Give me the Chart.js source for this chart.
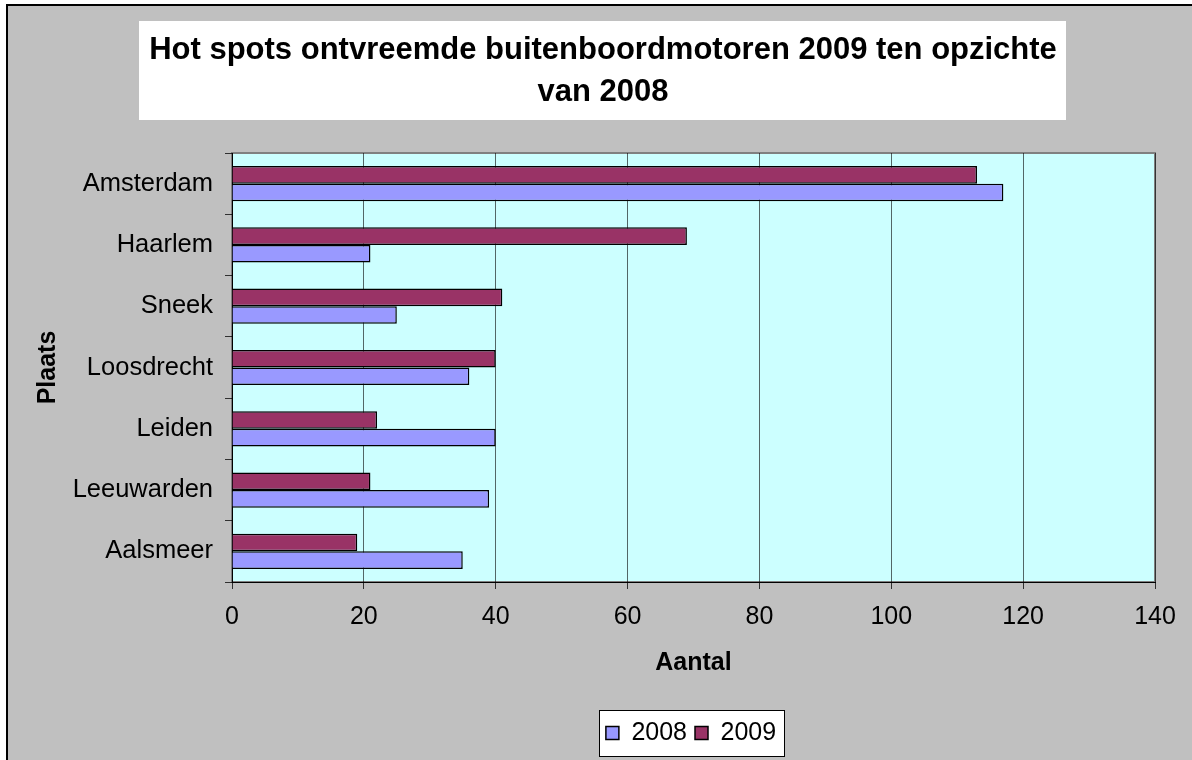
<!DOCTYPE html>
<html>
<head>
<meta charset="utf-8">
<script src="https://cdn.jsdelivr.net/npm/chart.js@4/dist/chart.umd.min.js"></script>
<style>
html,body{margin:0;padding:0;background:#fff;overflow:hidden}
canvas{display:block}
</style>
</head>
<body>
<canvas id="c" width="1192" height="760"></canvas>
<script>
const titleLines = ['Hot spots ontvreemde buitenboordmotoren 2009 ten opzichte', 'van 2008'];
const categories = ['Amsterdam', 'Haarlem', 'Sneek', 'Loosdrecht', 'Leiden', 'Leeuwarden', 'Aalsmeer'];
const seriesNames = ['2008', '2009'];
const values2008 = [117, 21, 25, 36, 40, 39, 35];
const values2009 = [113, 69, 41, 40, 22, 21, 19];
const xTicks = [0, 20, 40, 60, 80, 100, 120, 140];
const xTitle = 'Aantal';
const yTitle = 'Plaats';

const FONT = '"Liberation Sans", Arial, Helvetica, sans-serif';
Chart.defaults.font.family = FONT;
Chart.defaults.color = '#000';

const TITLE_SIZE = 31, TITLE_LH = 42;

const bgPlugin = {
  id: 'bgPlugin',
  afterLayout(chart) {
    const t = chart.titleBlock;
    if (t) { t.left = 14; t.right = chart.width; }
    const lg = chart.legend, a = chart.chartArea;
    if (lg) { lg.left = a.left; lg.right = a.right - 5; }
  },
  beforeDraw(chart) {
    const ctx = chart.ctx, W = chart.width, H = chart.height;
    ctx.save();
    ctx.fillStyle = '#ffffff';
    ctx.fillRect(0, 0, W, H);
    ctx.fillStyle = '#C0C0C0';
    ctx.fillRect(6, 4, W - 6, H - 4);
    ctx.fillStyle = '#000';
    ctx.fillRect(6, 4, 2, H - 4);
    ctx.fillRect(6, 4, W - 6, 2);

    // title box
    const t = chart.titleBlock;
    ctx.font = 'bold ' + TITLE_SIZE + 'px ' + FONT;
    let w = 0;
    titleLines.forEach(s => { w = Math.max(w, ctx.measureText(s).width); });
    const cx = (t.left + t.right) / 2;
    const c1 = t.top + t._padding.top + TITLE_LH / 2;
    ctx.fillStyle = '#ffffff';
    ctx.fillRect(Math.round(cx - w / 2 - 10), Math.round(c1 - 29), Math.round(w + 19), Math.round(TITLE_LH + 57));

    // plot area
    const a = chart.chartArea;
    ctx.fillStyle = '#CCFFFF';
    ctx.fillRect(a.left, a.top, a.right - a.left, a.bottom - a.top);
    ctx.strokeStyle = '#808080';
    ctx.lineWidth = 2;
    ctx.strokeRect(a.left, a.top, a.right - a.left, a.bottom - a.top);

    // legend box
    const lg = chart.legend;
    const hb = lg && lg.legendHitBoxes;
    if (hb && hb.length) {
      const first = hb[0], last = hb[hb.length - 1];
      const x0 = Math.round(first.left - 7), x1 = Math.round(last.left + last.width + 8);
      const cy = Math.round(first.top + first.height / 2);
      ctx.fillStyle = '#ffffff';
      ctx.fillRect(x0, cy - 23, x1 - x0, 46);
      ctx.strokeStyle = '#000';
      ctx.lineWidth = 1;
      ctx.strokeRect(x0 + 0.5, cy - 23 + 0.5, x1 - x0, 46);
    }
    ctx.restore();
  }
};

new Chart(document.getElementById('c'), {
  type: 'bar',
  data: {
    labels: categories,
    datasets: [
      { label: seriesNames[1], data: values2009, backgroundColor: '#993366', borderColor: '#000', borderWidth: 1.5,
        categoryPercentage: 0.575, barPercentage: 1.0 },
      { label: seriesNames[0], data: values2008, backgroundColor: '#9999FF', borderColor: '#000', borderWidth: 1.5,
        categoryPercentage: 0.575, barPercentage: 1.0 }
    ]
  },
  options: {
    indexAxis: 'y',
    responsive: false,
    animation: false,
    devicePixelRatio: 1,
    layout: { padding: { left: 31, right: 37, top: 5, bottom: 4.5 } },
    plugins: {
      tooltip: { enabled: false },
      title: {
        display: true,
        text: titleLines,
        color: '#000',
        font: { size: TITLE_SIZE, weight: 'bold', lineHeight: TITLE_LH / TITLE_SIZE },
        padding: { top: 24, bottom: 40 }
      },
      legend: {
        display: true,
        position: 'bottom',
        reverse: true,
        labels: { color: '#000', font: { size: 25 }, boxWidth: 13, boxHeight: 13, padding: 8 }
      }
    },
    scales: {
      x: {
        type: 'linear',
        min: xTicks[0],
        max: xTicks[xTicks.length - 1],
        ticks: { stepSize: xTicks[1] - xTicks[0], color: '#000', font: { size: 25 }, padding: 13.5 },
        grid: { color: 'rgba(0,0,0,0.6)', tickColor: 'rgba(0,0,0,0.75)', tickLength: 7, lineWidth: 1 },
        border: { display: true, color: '#000', width: 1 },
        title: { display: true, text: xTitle, color: '#000', font: { size: 25, weight: 'bold' }, padding: { top: 0, bottom: 34.5 } },
        afterFit(s) { s.height = 130.5; }
      },
      y: {
        ticks: { color: '#000', font: { size: 25.5 }, padding: 12 },
        grid: { drawOnChartArea: false, offset: true, color: '#000', tickColor: 'rgba(0,0,0,0.75)', tickLength: 7 },
        border: { display: true, color: '#000', width: 1 },
        title: { display: true, text: yTitle, color: '#000', font: { size: 25, weight: 'bold' }, padding: { top: 2, bottom: 0 } },
        afterFit(s) { s.width = 201; }
      }
    }
  },
  plugins: [bgPlugin]
});
</script>
</body>
</html>
